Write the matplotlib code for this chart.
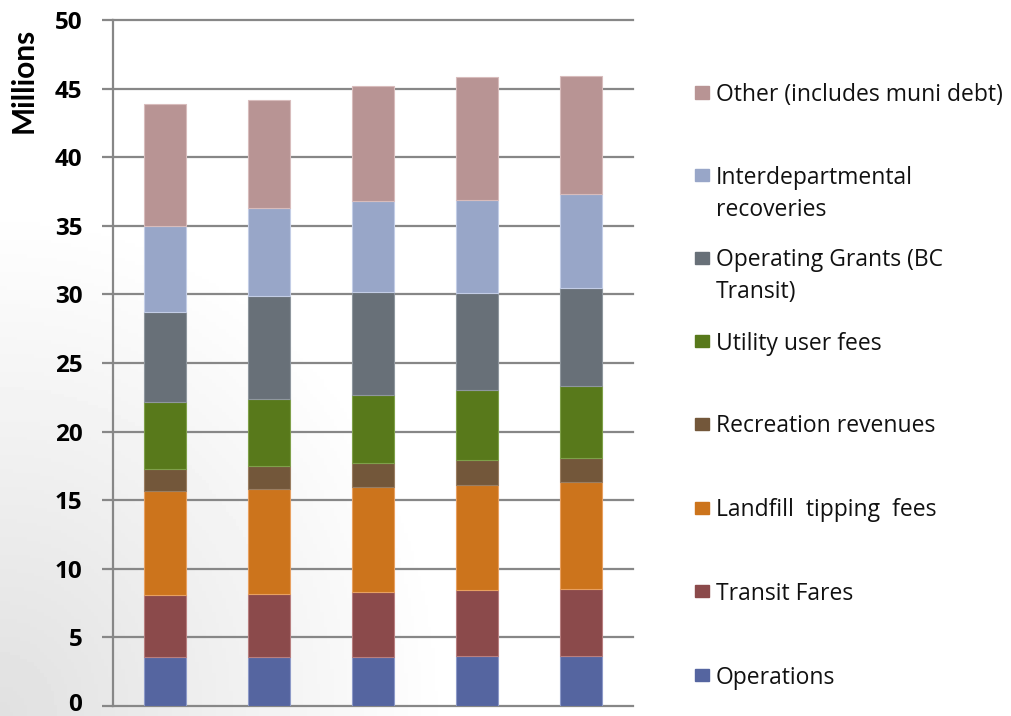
import numpy as np
import matplotlib
matplotlib.use('Agg')
import matplotlib.pyplot as plt
import matplotlib.transforms as mtransforms
from matplotlib.patches import Rectangle

# stacked revenue components per year (millions), bottom to top
years = ['Y1', 'Y2', 'Y3', 'Y4', 'Y5']
operations = [3.57, 3.55, 3.57, 3.62, 3.64]
transit_fares = [4.50, 4.64, 4.72, 4.83, 4.89]
landfill = [7.58, 7.63, 7.67, 7.68, 7.77]
recreation = [1.60, 1.65, 1.73, 1.78, 1.78]
utility = [4.88, 4.88, 4.98, 5.09, 5.22]
op_grants = [6.61, 7.51, 7.48, 7.10, 7.19]
interdept = [6.27, 6.46, 6.66, 6.78, 6.83]
other = [8.84, 7.88, 8.38, 8.99, 8.57]

series = [operations, transit_fares, landfill, recreation, utility,
          op_grants, interdept, other]
labels = ['Operations', 'Transit Fares', 'Landfill  tipping  fees',
          'Recreation revenues', 'Utility user fees',
          'Operating Grants (BC\nTransit)', 'Interdepartmental\nrecoveries',
          'Other (includes muni debt)']
colors = ['#5565a0', '#8b4a4b', '#cc741c', '#73573a', '#58791b',
          '#687078', '#98a6c8', '#b89494']
edges = ['#8d9ac8', '#b87f80', '#e8a060', '#9a7e62', '#7fa04a',
         '#8f979e', '#c3cde6', '#d8bcbc']

W, H = 1011, 716
fig = plt.figure(figsize=(W / 100, H / 100), dpi=100)

# soft grey gradient background (darker bottom-left, white top-right)
bg = fig.add_axes([0, 0, 1, 1], zorder=-10)
gx, gy = np.meshgrid(np.linspace(0, 1, 300), np.linspace(0, 1, 200))
shade = np.clip(1.0 - 0.12 * np.clip(1.0 - 1.4 * np.hypot(gx * 1.6, gy), 0, 1), 0, 1)
bg.imshow(shade, cmap='gray', vmin=0, vmax=1, extent=[0, 1, 0, 1],
          origin='lower', aspect='auto')
bg.axis('off')

ax = fig.add_axes([113 / W, 10 / H, 520 / W, 686 / H])
ax.patch.set_alpha(0)

x = np.arange(len(years))
bottom = np.zeros(len(years))
for vals, c, e in zip(series, colors, edges):
    ax.bar(x, vals, width=0.40, bottom=bottom, color=c, edgecolor=e,
           linewidth=0.8, zorder=3)
    bottom += np.array(vals)

ax.set_xlim(-0.5, 4.5)
ax.set_ylim(0, 50)
ax.set_yticks(np.arange(0, 51, 5))
ax.set_xticks([])
for t in range(0, 51, 5):
    ax.axhline(t, color='#878787', lw=1.6, zorder=1, clip_on=False)
for s in ['top', 'right', 'bottom']:
    ax.spines[s].set_visible(False)
ax.spines['left'].set_color('#878787')
ax.spines['left'].set_linewidth(1.6)
ax.tick_params(axis='y', length=8, width=1.6, color='#878787', pad=14,
               labelsize=17.5)
for lb in ax.get_yticklabels():
    lb.set_fontweight('bold')
    lb.set_fontfamily('Open Sans')
# nudge the "0" label up a touch so it stays inside the canvas
zero_lb = ax.get_yticklabels()[0]
zero_lb.set_transform(zero_lb.get_transform() +
                      mtransforms.ScaledTranslation(0, 3 / 72, fig.dpi_scale_trans))

fig.text(24 / W, 1 - 80 / H, 'Millions', rotation=90, ha='center',
         va='center', fontsize=21.5, fontweight='bold', family='Lato')

# legend, top entry first; positions are the cap-centre of the first line
legend_y = [92.5, 175, 258, 341, 424, 508, 591, 675]
for i, (lab, c) in enumerate(zip(labels[::-1], colors[::-1])):
    yc = legend_y[i]
    fig.patches.append(Rectangle((695 / W, 1 - (yc + 6) / H), 14 / W, 12 / H,
                                 transform=fig.transFigure, color=c))
    for k, line in enumerate(lab.split('\n')):
        fig.text(716 / W, 1 - (yc + 8.5 + 32 * k) / H, line, ha='left',
                 va='baseline', fontsize=16.5, family='Open Sans',
                 color='#111111')

fig.savefig('out.png', dpi=100)
